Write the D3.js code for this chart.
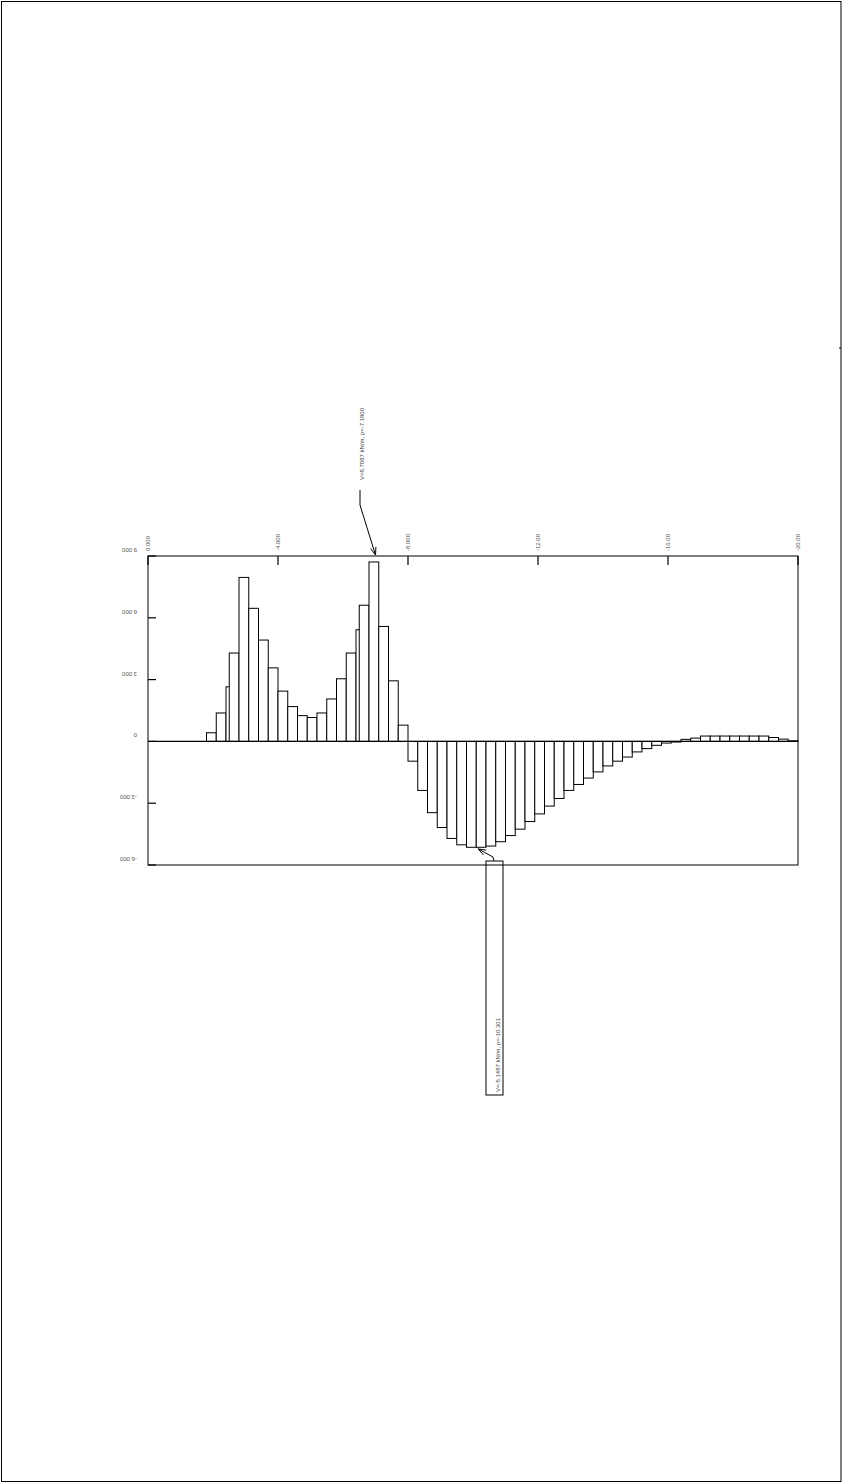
<!DOCTYPE html>
<html>
<head>
<meta charset="utf-8">
<script src="https://cdn.jsdelivr.net/npm/d3@7"></script>
<style>
  html, body { margin: 0; padding: 0; background: #fff; }
  svg { display: block; }
  text { font-family: "Liberation Sans Narrow", "Liberation Sans", "DejaVu Sans Condensed", sans-serif; }
</style>
</head>
<body>
<svg id="chart" width="842" height="1484"></svg>
<script>
// ---- data ----
const barStart = [-1.8, -2.1, -2.4, -2.5, -2.8, -3.1, -3.4, -3.7, -4.0, -4.3, -4.6, -4.9, -5.2, -5.5, -5.8, -6.1, -6.4, -6.5, -6.8, -7.1, -7.4, -7.7,
  -8.0, -8.3, -8.6, -8.9, -9.2, -9.5, -9.8, -10.1, -10.4, -10.7, -11.0, -11.3, -11.6, -11.9, -12.2, -12.5, -12.8, -13.1, -13.4, -13.7,
  -14.0, -14.3, -14.6, -14.9, -15.2, -15.5, -15.8, -16.1, -16.4, -16.7, -17.0, -17.3, -17.6, -17.9, -18.2, -18.5, -18.8, -19.1, -19.4, -19.7];
const barValue = [0.42, 1.38, 2.65, 4.29, 7.96, 6.46, 4.92, 3.57, 2.44, 1.69, 1.25, 1.16, 1.38, 2.06, 3.04, 4.29, 5.42, 6.61, 8.71, 5.58, 2.94, 0.79,
  -0.96, -2.38, -3.46, -4.18, -4.71, -5.02, -5.14, -5.14, -5.08, -4.87, -4.57, -4.26, -3.89, -3.52, -3.14, -2.77, -2.38, -2.09, -1.78, -1.48,
  -1.19, -0.96, -0.76, -0.51, -0.35, -0.19, -0.08, -0.03, 0.10, 0.16, 0.26, 0.26, 0.26, 0.26, 0.26, 0.26, 0.26, 0.19, 0.11, 0.03];
const barWidth = 0.3;

const xTicks = [0, -4, -8, -12, -16, -20];
const xTickLabels = ["0.000", "-4.000", "-8.000", "-12.00", "-16.00", "-20.00"];
const yTicks = [9, 6, 3, 0, -3, -6];
const yTickLabels = ["9.000", "6.000", "3.000", "0", "-3.000", "-6.000"];

const annMaxLabel = "V=8.7087 kN/m, p=-7.1800";
const annMaxPos = [-7.0, 9];
const annMinLabel = "V=-5.1487 kN/m, p=-10.301";
const annMinPos = [-10.16, -5.22];

// ---- layout ----
const svg = d3.select("#chart");
const L = 148, R = 798, T = 556, B = 865;
const x = d3.scaleLinear().domain([0, -20]).range([L, R]);
const y = d3.scaleLinear().domain([-6, 9]).range([B, T]);

// page border
svg.append("rect").attr("x", 1.5).attr("y", 1.5).attr("width", 839.5).attr("height", 1480)
  .attr("fill", "none").attr("stroke", "#000").attr("stroke-width", 1);
svg.append("line").attr("x1", 839).attr("x2", 841).attr("y1", 348).attr("y2", 348).attr("stroke", "#000");

// bars
const bars = barStart.map((p, i) => ({ p, v: barValue[i] }));
svg.append("g").selectAll("rect").data(bars).join("rect")
  .attr("x", d => x(d.p))
  .attr("width", d => x(d.p - barWidth) - x(d.p))
  .attr("y", d => Math.min(y(d.v), y(0)))
  .attr("height", d => Math.abs(y(d.v) - y(0)))
  .attr("fill", "#fff").attr("stroke", "#000").attr("stroke-width", 1);

// zero line
svg.append("line").attr("x1", L).attr("x2", R).attr("y1", y(0)).attr("y2", y(0))
  .attr("stroke", "#000").attr("stroke-width", 1.2);

// frame
svg.append("rect").attr("x", L).attr("y", T).attr("width", R - L).attr("height", B - T)
  .attr("fill", "none").attr("stroke", "#000").attr("stroke-width", 1);

// top axis (ticks pointing inward)
const gx = svg.append("g");
gx.selectAll("line").data(xTicks).join("line")
  .attr("x1", d => x(d)).attr("x2", d => x(d))
  .attr("y1", T).attr("y2", T + 9)
  .attr("stroke", "#000").attr("stroke-width", 1.2);
gx.selectAll("text").data(xTicks).join("text")
  .attr("transform", d => `translate(${x(d)},551) rotate(-90)`)
  .attr("dominant-baseline", "central")
  .attr("text-anchor", "start")
  .attr("font-size", 6).attr("fill", "#555")
  .text((d, i) => xTickLabels[i]);

// left axis (ticks pointing inward)
const gy = svg.append("g");
gy.selectAll("line").data(yTicks).join("line")
  .attr("x1", L).attr("x2", L + 8)
  .attr("y1", d => y(d)).attr("y2", d => y(d))
  .attr("stroke", "#000").attr("stroke-width", 1.2);
gy.selectAll("text").data(yTicks).join("text")
  .attr("transform", d => `translate(137,${y(d) - 6}) rotate(180)`)
  .attr("dominant-baseline", "central")
  .attr("text-anchor", "start")
  .attr("font-size", 6).attr("fill", "#555")
  .text((d, i) => yTickLabels[i]);

// arrow helper
function arrowHead(g, x0, y0, x1, y1) {
  const a = Math.atan2(y1 - y0, x1 - x0), len = 8, sp = 0.35;
  [a + Math.PI - sp, a + Math.PI + sp].forEach(b => {
    g.append("line").attr("x1", x1).attr("y1", y1)
      .attr("x2", x1 + len * Math.cos(b)).attr("y2", y1 + len * Math.sin(b))
      .attr("stroke", "#000").attr("stroke-width", 1);
  });
}

// max annotation
const ga = svg.append("g");
const tip1 = [x(annMaxPos[0]), y(annMaxPos[1]) - 1];
ga.append("polyline").attr("points", `360,490 360,505 ${tip1[0]},${tip1[1]}`)
  .attr("fill", "none").attr("stroke", "#000").attr("stroke-width", 1);
arrowHead(ga, 360, 505, tip1[0], tip1[1]);
ga.append("text")
  .attr("transform", "translate(362,480) rotate(-90)")
  .attr("dominant-baseline", "central").attr("text-anchor", "start")
  .attr("font-size", 6).attr("fill", "#444").text(annMaxLabel);

// min annotation
const gb = svg.append("g");
const tip2 = [x(annMinPos[0]), y(annMinPos[1])];
gb.append("rect").attr("x", 486).attr("y", 861).attr("width", 17).attr("height", 234)
  .attr("fill", "none").attr("stroke", "#000").attr("stroke-width", 1);
gb.append("polyline").attr("points", `494,861 493,857 ${tip2[0]},${tip2[1]}`)
  .attr("fill", "none").attr("stroke", "#000").attr("stroke-width", 1);
arrowHead(gb, 493, 857, tip2[0], tip2[1]);
gb.append("text")
  .attr("transform", "translate(497.5,1092) rotate(-90)")
  .attr("dominant-baseline", "central").attr("text-anchor", "start")
  .attr("font-size", 6).attr("fill", "#444").text(annMinLabel);
</script>
</body>
</html>
